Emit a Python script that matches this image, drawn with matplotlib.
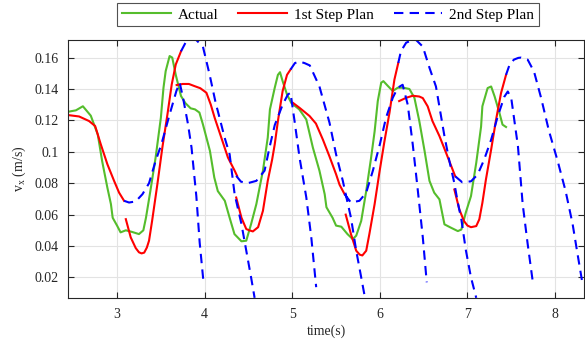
import matplotlib
matplotlib.use("Agg")
import matplotlib.pyplot as plt
from matplotlib.ticker import FormatStrFormatter
import numpy as np

nan = np.nan

# measured velocity
actual_t = [2.44, 2.53, 2.61, 2.70, 2.78, 2.83, 2.89, 2.93, 2.95, 3.00, 3.04, 3.10, 3.17, 3.25,
            3.30, 3.33, 3.38, 3.44, 3.50, 3.53, 3.555, 3.60, 3.63, 3.67, 3.73, 3.78, 3.84, 3.89,
            3.94, 3.98, 4.06, 4.11, 4.15, 4.23, 4.285, 4.34, 4.42, 4.475, 4.53, 4.59, 4.665,
            4.72, 4.745, 4.80, 4.836, 4.86, 4.89, 4.94, 4.99, 5.08, 5.16, 5.235, 5.31, 5.37,
            5.39, 5.46, 5.50, 5.56, 5.63, 5.69, 5.73, 5.787, 5.844, 5.90, 5.94, 5.976, 6.015,
            6.04, 6.09, 6.147, 6.204, 6.27, 6.337, 6.394, 6.45, 6.51, 6.566, 6.62, 6.68, 6.737,
            6.81, 6.89, 6.93, 6.98, 7.04, 7.10, 7.155, 7.17, 7.23, 7.27, 7.31, 7.365, 7.40, 7.44]
actual_v = [0.1255, 0.1264, 0.129, 0.123, 0.111, 0.094, 0.077, 0.0667, 0.058, 0.053, 0.0487,
            0.050, 0.049, 0.0476, 0.050, 0.058, 0.075, 0.0963, 0.1217, 0.1408, 0.1514, 0.161,
            0.160, 0.149, 0.1355, 0.131, 0.1277, 0.127, 0.125, 0.1175, 0.1006, 0.0836, 0.075,
            0.0688, 0.058, 0.0476, 0.043, 0.0434, 0.054, 0.0667, 0.088, 0.109, 0.127, 0.1408,
            0.149, 0.1507, 0.145, 0.1365, 0.131, 0.127, 0.1206, 0.1027, 0.088, 0.073, 0.0647,
            0.058, 0.053, 0.0523, 0.0476, 0.0444, 0.0466, 0.056, 0.075, 0.0963, 0.113, 0.1323,
            0.144, 0.145, 0.142, 0.1387, 0.1408, 0.1408, 0.140, 0.1344, 0.1196, 0.1006, 0.0815,
            0.074, 0.0697, 0.0538, 0.0517, 0.0495, 0.0505, 0.0612, 0.0718, 0.093, 0.116, 0.129,
            0.1406, 0.1416, 0.1352, 0.1247, 0.1173, 0.1158]

# 1st step plan, segments split by nan
plan1_t = [2.44, 2.567, 2.68, 2.75, 2.814, 2.89, 2.966, 3.023, 3.08, nan,
           3.10, 3.156, 3.213, 3.25, 3.28, 3.31, 3.34, 3.365, 3.40, 3.46, 3.517, 3.575, 3.624, 3.67, 3.73, nan,
           3.68, 3.75, 3.82, 3.886, 3.95, 4.02, 4.07, 4.114, 4.19, 4.266, 4.342, 4.37, nan,
           4.36, 4.42, 4.475, 4.51, 4.55, 4.61, 4.665, 4.72, 4.77, 4.80, 4.836, 4.89, 4.94, 4.98, nan,
           5.007, 5.083, 5.197, 5.27, 5.35, 5.425, 5.50, 5.54, 5.597, nan,
           5.61, 5.67, 5.73, 5.77, 5.80, 5.844, 5.88, 5.94, 5.995, 6.05, 6.11, 6.166, 6.21, nan,
           6.22, 6.30, 6.375, 6.45, 6.49, 6.546, 6.60, 6.68, 6.756, 6.83, 6.86, nan,
           6.85, 6.907, 6.96, 7.00, 7.04, 7.10, 7.135, 7.17, 7.21, 7.27, 7.326, 7.383, 7.44]
plan1_v = [0.1234, 0.1225, 0.1196, 0.1164, 0.1048, 0.092, 0.0815, 0.074, 0.0688, nan,
           0.0571, 0.0455, 0.0387, 0.036, 0.0353, 0.0358, 0.039, 0.0434, 0.056, 0.0793, 0.1027, 0.1238, 0.1429, 0.1556, 0.164, nan,
           0.1425, 0.1432, 0.1432, 0.1418, 0.1405, 0.1376, 0.130, 0.1217, 0.109, 0.0963, 0.088, 0.0847, nan,
           0.0709, 0.058, 0.0508, 0.050, 0.0493, 0.052, 0.0624, 0.0815, 0.095, 0.1048, 0.1196, 0.1387, 0.149, 0.1524, nan,
           0.1312, 0.128, 0.1228, 0.118, 0.1077, 0.097, 0.0857, 0.079, 0.073, nan,
           0.060, 0.0476, 0.037, 0.0345, 0.034, 0.037, 0.0476, 0.0667, 0.087, 0.106, 0.125, 0.146, 0.1566, nan,
           0.1323, 0.1344, 0.1357, 0.1352, 0.1342, 0.1289, 0.1196, 0.110, 0.0993, 0.0887, 0.0844, nan,
           0.076, 0.0633, 0.0559, 0.053, 0.052, 0.0527, 0.057, 0.0675, 0.0822, 0.1014, 0.1204, 0.1374, 0.149]

# 2nd step plan, segments split by nan
plan2_t = [3.08, 3.137, 3.213, 3.29, 3.365, 3.44, 3.506, 3.60, 3.677, 3.715, 3.753, 3.81, 3.85, 3.886, 3.905, 3.943, 3.989, nan,
           3.73, 3.79, 3.84, 3.90, 3.98, 4.057, 4.13, 4.15, 4.228, 4.285, 4.342, 4.42, 4.475, 4.53, 4.57, nan,
           4.36, 4.414, 4.49, 4.59, 4.684, 4.74, 4.80, 4.89, 4.95, 4.98, 5.026, 5.083, 5.16, 5.217, 5.273, nan,
           4.98, 5.03, 5.08, 5.14, 5.2, 5.31, 5.425, 5.50, 5.577, 5.61, 5.67, 5.73, 5.787, 5.825, nan,
           5.597, 5.67, 5.767, 5.844, 5.92, 6.0, 6.07, 6.147, 6.204, 6.26, 6.318, 6.375, 6.43, 6.49, 6.535, nan,
           6.21, 6.24, 6.30, 6.375, 6.41, 6.49, 6.566, 6.64, 6.737, 6.79, 6.85, 6.89, 6.93, 6.98, 7.04, 7.10, nan,
           6.86, 6.94, 7.04, 7.116, 7.19, 7.27, 7.345, 7.42, 7.46, 7.50, 7.576, 7.63, 7.687, 7.744, nan,
           7.44, 7.48, 7.53, 7.58, 7.61, 7.687, 7.76, 7.84, 7.93, 8.03, 8.12, 8.2, 8.256, 8.313]
plan2_v = [0.0688, 0.0677, 0.0684, 0.073, 0.080, 0.0942, 0.1048, 0.1238, 0.1387, 0.144, 0.1344, 0.1175, 0.1027, 0.0823, 0.0717, 0.0422, 0.0157, nan,
           0.164, 0.1704, 0.1712, 0.1714, 0.167, 0.149, 0.130, 0.126, 0.109, 0.0984, 0.073, 0.054, 0.037, 0.020, 0.007, nan,
           0.0847, 0.081, 0.080, 0.0815, 0.088, 0.1027, 0.117, 0.130, 0.1365, 0.1376, 0.1196, 0.0963, 0.071, 0.0455, 0.0138, nan,
           0.1524, 0.1565, 0.1575, 0.1565, 0.155, 0.1416, 0.1185, 0.0984, 0.0815, 0.073, 0.058, 0.037, 0.020, 0.0085, nan,
           0.073, 0.0677, 0.0688, 0.074, 0.088, 0.1048, 0.1217, 0.1344, 0.1408, 0.1427, 0.130, 0.1048, 0.077, 0.0455, 0.0169, nan,
           0.1566, 0.164, 0.1695, 0.1712, 0.1714, 0.167, 0.1535, 0.1416, 0.110, 0.095, 0.080, 0.0675, 0.057, 0.0378, 0.020, 0.007, nan,
           0.0844, 0.0806, 0.0812, 0.0855, 0.095, 0.1077, 0.1225, 0.135, 0.1384, 0.134, 0.1035, 0.0667, 0.0413, 0.0178, nan,
           0.149, 0.1554, 0.1587, 0.1598, 0.160, 0.1587, 0.151, 0.1344, 0.1133, 0.094, 0.075, 0.054, 0.035, 0.016]

x_ticks = [3, 4, 5, 6, 7, 8]
y_ticks = [0.02, 0.04, 0.06, 0.08, 0.1, 0.12, 0.14, 0.16]

plt.rcParams["font.family"] = ["Liberation Serif", "DejaVu Serif"]
plt.rcParams["mathtext.fontset"] = "custom"
plt.rcParams["mathtext.rm"] = "Liberation Serif"
plt.rcParams["mathtext.it"] = "Liberation Serif:italic"

dark = "#262626"

fig = plt.figure(figsize=(5.85, 3.43), dpi=100)
ax = fig.add_axes([68 / 585, 45 / 343, 516 / 585, 258 / 343])

ax.plot(actual_t, actual_v, color="#55bd2c", lw=1.5, label="Actual")
ax.plot(plan1_t, plan1_v, color="#ff0000", lw=1.5, label="1st Step Plan")
ax.plot(plan2_t, plan2_v, color="#0000ff", lw=1.5, dashes=(4.5, 3), label="2nd Step Plan")

ax.set_xlim(2.44, 8.33)
ax.set_ylim(0.0069, 0.1712)
ax.set_xticks(x_ticks)
ax.set_yticks(y_ticks)
ax.yaxis.set_major_formatter(FormatStrFormatter("%g"))
ax.grid(True, color="#e3e3e3", lw=0.8)
ax.set_axisbelow(True)
ax.tick_params(direction="in", top=True, right=True, length=4, width=0.8,
               colors=dark, labelsize=10, pad=7)
for s in ax.spines.values():
    s.set_color(dark)
    s.set_linewidth(0.8)

ax.set_xlabel("time(s)", fontsize=10, color=dark, labelpad=3)
ax.set_ylabel(r"v$_\mathrm{x}$ (m/s)", fontsize=10, color=dark, labelpad=4)

leg = fig.legend(loc="upper center", bbox_to_anchor=(328 / 585, 0.99), ncol=3,
                 fontsize=11, frameon=True, fancybox=False, edgecolor=dark,
                 handlelength=3.2, handletextpad=0.45, columnspacing=1.3,
                 borderpad=0.3, borderaxespad=0)
leg.get_frame().set_linewidth(0.8)

fig.savefig("out.png", dpi=100)
